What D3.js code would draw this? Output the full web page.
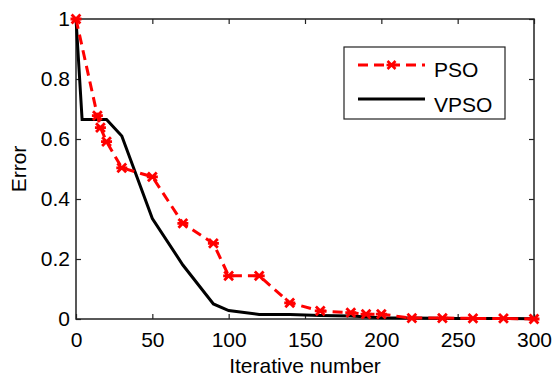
<!DOCTYPE html>
<html>
<head>
<meta charset="utf-8">
<script src="https://cdn.jsdelivr.net/npm/d3@7"></script>
<style>
  body { margin: 0; background: #fff; }
  text { font-family: Arial, "Liberation Sans", sans-serif; }
</style>
</head>
<body>
<div id="chart"></div>
<script>
// data
var psoIter = [0, 14, 16, 20, 30, 50, 70, 90, 100, 120, 140, 160, 180, 190, 200, 220, 240, 260, 280, 300];
var psoErr = [1, 0.678, 0.638, 0.591, 0.504, 0.474, 0.319, 0.252, 0.144, 0.144, 0.054, 0.027, 0.021, 0.016, 0.016, 0.003, 0.003, 0.002, 0.002, 0];
var vpsoIter = [0, 4, 20, 30, 50, 70, 90, 100, 120, 140, 160, 180, 200, 220, 250, 300];
var vpsoErr = [1, 0.665, 0.665, 0.61, 0.335, 0.18, 0.05, 0.028, 0.015, 0.015, 0.012, 0.01, 0.004, 0.003, 0.002, 0.001];
var xTicks = [0, 50, 100, 150, 200, 250, 300];
var yTicks = [0, 0.2, 0.4, 0.6, 0.8, 1];
var seriesNames = ["PSO", "VPSO"];

var width = 553, height = 378;
var margin = {top: 19, right: 19, bottom: 59, left: 76};
var fontSize = "21px";

var svg = d3.select("#chart").append("svg")
  .attr("width", width)
  .attr("height", height);

var x = d3.scaleLinear().domain([0, 300]).range([margin.left, width - margin.right]);
var y = d3.scaleLinear().domain([0, 1]).range([height - margin.bottom, margin.top]);

// axes with inward ticks, mirrored on top/right
var fmt = function(d) { return d3.format("")(d); };
svg.append("g")
  .attr("transform", "translate(0," + y(0) + ")")
  .call(d3.axisBottom(x).tickValues(xTicks).tickSize(-5).tickPadding(13).tickFormat(fmt))
  .call(g => g.select(".domain").remove());
svg.append("g")
  .attr("transform", "translate(0," + y(1) + ")")
  .call(d3.axisTop(x).tickValues(xTicks).tickSize(-5).tickFormat(""))
  .call(g => g.select(".domain").remove());
svg.append("g")
  .attr("transform", "translate(" + x(0) + ",0)")
  .call(d3.axisLeft(y).tickValues(yTicks).tickSize(-5).tickPadding(6).tickFormat(fmt))
  .call(g => g.select(".domain").remove());
svg.append("g")
  .attr("transform", "translate(" + x(300) + ",0)")
  .call(d3.axisRight(y).tickValues(yTicks).tickSize(-5).tickFormat(""))
  .call(g => g.select(".domain").remove());

svg.selectAll(".tick line").attr("stroke", "#222").attr("stroke-width", 1.2);
svg.selectAll(".tick text").attr("fill", "#000").style("font-size", fontSize)
  .style("font-family", "Arial, 'Liberation Sans', sans-serif");

// frame
svg.append("rect")
  .attr("x", x(0)).attr("y", y(1))
  .attr("width", x(300) - x(0)).attr("height", y(0) - y(1))
  .attr("fill", "none").attr("stroke", "#222").attr("stroke-width", 1.5);

var line = d3.line().x(d => x(d[0])).y(d => y(d[1]));

var vpso = d3.zip(vpsoIter, vpsoErr);
var pso = d3.zip(psoIter, psoErr);

svg.append("path").datum(vpso)
  .attr("d", line)
  .attr("fill", "none").attr("stroke", "#000").attr("stroke-width", 3);

svg.append("path").datum(pso)
  .attr("d", line)
  .attr("fill", "none").attr("stroke", "#ff0000").attr("stroke-width", 3)
  .attr("stroke-dasharray", "10,6");

// asterisk markers
function star(cx, cy, r) {
  var a = r * 0.8;
  return "M" + (cx - a) + "," + (cy - a) + "L" + (cx + a) + "," + (cy + a) +
    "M" + (cx - a) + "," + (cy + a) + "L" + (cx + a) + "," + (cy - a) +
    "M" + (cx - r) + "," + cy + "L" + (cx + r) + "," + cy;
}
svg.selectAll(".mk").data(pso).enter().append("path")
  .attr("class", "mk")
  .attr("d", d => star(x(d[0]), y(d[1]), 5.5))
  .attr("fill", "none").attr("stroke", "#ff0000").attr("stroke-width", 2.8);

// axis labels
svg.append("text")
  .attr("x", (x(0) + x(300)) / 2).attr("y", 373)
  .attr("text-anchor", "middle").style("font-size", fontSize)
  .text("Iterative number");
svg.append("text")
  .attr("transform", "translate(26," + ((y(0) + y(1)) / 2) + ") rotate(-90)")
  .attr("text-anchor", "middle").style("font-size", fontSize)
  .text("Error");

// legend
var lg = svg.append("g");
lg.append("rect")
  .attr("x", 344).attr("y", 47).attr("width", 161).attr("height", 72)
  .attr("fill", "#fff").attr("stroke", "#222").attr("stroke-width", 1.2);
lg.append("line").attr("x1", 358).attr("x2", 425).attr("y1", 65).attr("y2", 65)
  .attr("stroke", "#ff0000").attr("stroke-width", 3).attr("stroke-dasharray", "10,6");
lg.append("path").attr("d", star(391.5, 65, 5))
  .attr("fill", "none").attr("stroke", "#ff0000").attr("stroke-width", 2.5);
lg.append("line").attr("x1", 358).attr("x2", 425).attr("y1", 99).attr("y2", 99)
  .attr("stroke", "#000").attr("stroke-width", 3);
lg.selectAll(".lt").data(seriesNames).enter().append("text")
  .attr("x", 434).attr("y", (d, i) => 77 + i * 35)
  .style("font-size", fontSize)
  .text(d => d);
</script>
</body>
</html>
